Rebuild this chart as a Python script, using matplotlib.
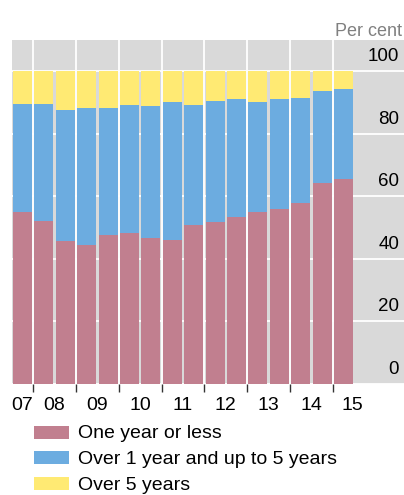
import matplotlib
matplotlib.use("Agg")
import matplotlib.pyplot as plt
from matplotlib.patches import Rectangle
import numpy as np

# datos (porcentajes acumulados por semestre)
etiquetas_anio = ["07", "08", "09", "10", "11", "12", "13", "14", "15"]
pos_etiquetas = [0, 1.5, 3.5, 5.5, 7.5, 9.5, 11.5, 13.5, 15.4]
un_anio_o_menos = [55.1, 52.2, 45.8, 44.5, 47.7, 48.3, 46.8, 46.2,
                   50.9, 51.9, 53.4, 55.1, 56.0, 57.9, 64.3, 65.6]
hasta_5_anios_acum = [89.6, 89.6, 87.7, 88.3, 88.3, 89.3, 89.0, 90.2,
                      89.3, 90.6, 91.0, 90.2, 91.0, 91.5, 93.8, 94.4]
total = [100] * 16

nombres = ["One year or less", "Over 1 year and up to 5 years", "Over 5 years"]
colores = ["#C17F8F", "#6CACE0", "#FFEA73"]

plt.rcParams['font.family'] = ['Liberation Sans', 'DejaVu Sans']

uno = np.array(un_anio_o_menos)
cinco = np.array(hasta_5_anios_acum) - uno
mas = np.array(total) - np.array(hasta_5_anios_acum)
x = np.arange(len(uno))

W, H = 404, 495
fig = plt.figure(figsize=(W / 100, H / 100), dpi=100)
ax = fig.add_axes([12 / W, 1 - 384 / H, 1 - 12 / W, 344 / H])
ax.set_facecolor("#D9D9D9")

# lineas de la grilla blancas
for v in range(0, 101, 20):
    ax.axhline(v, color="white", lw=1.3, zorder=1)
for s in np.arange(0.5, 15, 2):
    ax.axvline(s, color="white", lw=1.3, zorder=1)

ax.bar(x, uno, width=0.89, color=colores[0], zorder=2)
ax.bar(x, cinco, width=0.89, bottom=uno, color=colores[1], zorder=2)
ax.bar(x, mas, width=0.89, bottom=uno + cinco, color=colores[2], zorder=2)

ax.set_xlim(-0.49, 17.83)
ax.set_ylim(0, 110)
for sp in ax.spines.values():
    sp.set_visible(False)

ax.set_yticks([])
for v in range(0, 101, 20):
    ax.text(17.6, v + 2, str(v), ha="right", va="bottom", fontsize=13.5, zorder=3)

ax.set_xticks(pos_etiquetas)
ax.set_xticklabels(etiquetas_anio, fontsize=14)
ax.tick_params(axis="x", which="major", length=0, pad=9)
ax.set_xticks(np.arange(0.5, 15, 2), minor=True)
ax.tick_params(axis="x", which="minor", length=6, width=1, color="#333333")

fig.text(402 / W, 1 - 40 / H, "Per cent", ha="right", va="bottom",
         fontsize=13, color="#808080")

# leyenda dibujada a mano
for i, (nom, col) in enumerate(zip(nombres, colores)):
    yc = 432 + i * 25.5
    fig.add_artist(Rectangle((34 / W, 1 - (yc + 6.5) / H), 35 / W, 13 / H,
                             transform=fig.transFigure, facecolor=col, edgecolor="none"))
    fig.text(78 / W, 1 - yc / H, nom, ha="left", va="center_baseline", fontsize=14)

fig.savefig("out.png", dpi=100)
